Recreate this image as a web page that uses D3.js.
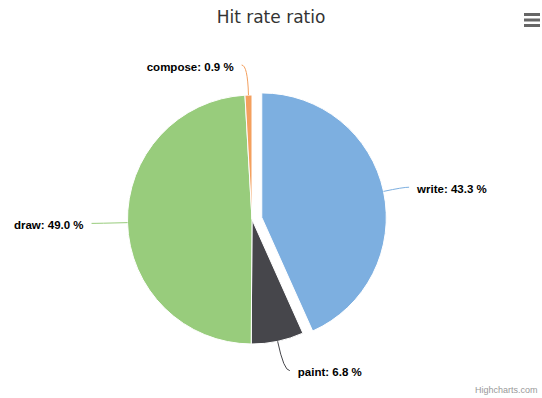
<!DOCTYPE html>
<html>
<head>
<meta charset="utf-8">
<script src="https://cdn.jsdelivr.net/npm/d3@7/dist/d3.min.js"></script>
<style>
  html, body { margin: 0; padding: 0; background: #fff; }
  svg { display: block; }
</style>
</head>
<body>
<svg id="chart" width="542" height="398"></svg>
<script>
// Share of hits per operation type (percent)
const categories = ["write", "paint", "draw", "compose"];
const shares = [43.3, 6.8, 49.0, 0.9];
const colors = ["#7dafe0", "#46464b", "#98cc7c", "#f4a05e"];
const slicedCategory = "write";
const chartTitle = "Hit rate ratio";
const creditText = "Highcharts.com";

const width = 542, height = 398;
const cx = 252, cy = 219.5, radius = 124.5;
const slicedOffset = 10;
const labelDistance = 30;

const svg = d3.select("#chart");

const data = categories.map((c, i) => ({ name: c, value: shares[i], color: colors[i] }));

const pie = d3.pie().sort(null).value(d => d.value);
const arcs = pie(data);
const arc = d3.arc().innerRadius(0).outerRadius(radius);

const mid = a => (a.startAngle + a.endAngle) / 2;
const shift = a => {
  if (a.data.name !== slicedCategory) return [0, 0];
  const m = mid(a);
  return [slicedOffset * Math.sin(m), -slicedOffset * Math.cos(m)];
};

// Title
svg.append("text")
  .attr("x", width / 2)
  .attr("y", 23)
  .attr("text-anchor", "middle")
  .attr("font-family", "'DejaVu Sans', sans-serif")
  .attr("font-size", 17)
  .attr("fill", "#333333")
  .text(chartTitle);

const g = svg.append("g").attr("transform", `translate(${cx},${cy})`);

// Slices
g.selectAll("path.slice")
  .data(arcs)
  .join("path")
  .attr("class", "slice")
  .attr("d", arc)
  .attr("transform", d => { const s = shift(d); return `translate(${s[0]},${s[1]})`; })
  .attr("fill", d => d.data.color)
  .attr("stroke", "#ffffff")
  .attr("stroke-width", 1)
  .attr("stroke-linejoin", "round");

// Data labels with connectors
const labelInfo = arcs.map(a => {
  const m = mid(a);
  const s = shift(a);
  const sin = Math.sin(m), cos = Math.cos(m);
  const side = sin >= 0 ? 1 : -1;
  const edge = [s[0] + radius * sin, s[1] - radius * cos];
  const bend = [(radius + labelDistance) * sin, -(radius + labelDistance) * cos];
  const end = [bend[0] + side * 6, bend[1]];
  return { a, side, edge, bend, end };
});

g.selectAll("path.connector")
  .data(labelInfo)
  .join("path")
  .attr("class", "connector")
  .attr("d", d => `M${d.edge[0]},${d.edge[1]} Q${d.bend[0]},${d.bend[1]} ${d.end[0]},${d.end[1]}`)
  .attr("fill", "none")
  .attr("stroke", d => d.a.data.color)
  .attr("stroke-width", 1);

g.selectAll("text.label")
  .data(labelInfo)
  .join("text")
  .attr("class", "label")
  .attr("x", d => d.end[0] + d.side * 8)
  .attr("y", d => d.end[1] + 5.5)
  .attr("text-anchor", d => d.side > 0 ? "start" : "end")
  .attr("font-family", "'Liberation Sans', Arial, sans-serif")
  .attr("font-weight", "bold")
  .attr("font-size", 11.5)
  .attr("fill", "#000000")
  .attr("stroke", "#ffffff")
  .attr("stroke-width", 2)
  .attr("stroke-linejoin", "round")
  .attr("paint-order", "stroke")
  .text(d => `${d.a.data.name}: ${d3.format(".1f")(d.a.data.value)} %`);

// Context menu button
const menu = svg.append("g").attr("transform", "translate(532,20)");
[-5.5, 0, 5.5].forEach(dy => {
  menu.append("line")
    .attr("x1", -8).attr("x2", 8)
    .attr("y1", dy).attr("y2", dy)
    .attr("stroke", "#666666")
    .attr("stroke-width", 3);
});

// Credits
svg.append("text")
  .attr("x", 475)
  .attr("y", 393)
  .attr("font-family", "'Liberation Sans', Arial, sans-serif")
  .attr("font-size", 9)
  .attr("fill", "#999999")
  .text(creditText);
</script>
</body>
</html>
